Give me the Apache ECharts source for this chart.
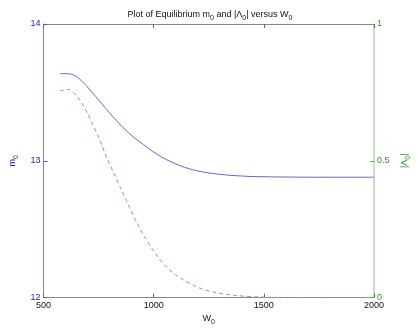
<!DOCTYPE html>
<html><head><meta charset="utf-8">
<script src="https://cdn.jsdelivr.net/npm/echarts@6/dist/echarts.min.js"></script>
<style>html,body{margin:0;padding:0;background:#fff}#c{width:420px;height:331px}</style>
</head><body><div id="c"></div>
<script>
const xTicks = [500, 1000, 1500, 2000];
const leftTicks = [12, 13, 14];
const rightTicks = [0, 0.5, 1];
const w0Blue = [575, 620, 654, 695, 737, 778, 820, 861, 911, 953, 994, 1036, 1078, 1119, 1161, 1202, 1244, 1285, 1356, 1451, 1618, 1800, 2000];
const m0 = [13.637, 13.635, 13.611, 13.548, 13.470, 13.392, 13.314, 13.244, 13.170, 13.120, 13.071, 13.028, 12.993, 12.965, 12.942, 12.925, 12.913, 12.904, 12.893, 12.885, 12.881, 12.880, 12.880];
const w0Green = [575, 612, 641, 662, 683, 704, 724, 745, 766, 787, 820, 856, 891, 925, 960, 994, 1028, 1064, 1098, 1133, 1202, 1272, 1368, 1493, 1650, 1800, 2000];
const lam0 = [0.755, 0.761, 0.746, 0.725, 0.699, 0.667, 0.631, 0.596, 0.555, 0.512, 0.454, 0.390, 0.329, 0.272, 0.221, 0.178, 0.140, 0.107, 0.085, 0.066, 0.037, 0.020, 0.008, 0.002, 0.0, 0.0, 0.0];

function richCol(c){
  return {
    b: {fontSize: 9, lineHeight: 10, verticalAlign: 'top', fontFamily: 'Liberation Sans', fontWeight: 'normal', color: c},
    s: {fontSize: 7, lineHeight: 16, fontFamily: 'Liberation Sans', fontWeight: 'normal', color: c}
  };
}
const chart = echarts.init(document.getElementById('c'));
chart.setOption({
  animation: false,
  backgroundColor: '#fff',
  title: {
    text: '{b|Plot of Equilibrium m}{s|0}{b| and |Λ}{s|0}{b|| versus W}{s|0}',
    left: 'center', top: 5,
    textStyle: {fontWeight: 'normal', rich: richCol('#111')}
  },
  grid: {left: 31, right: 28, top: 24, bottom: 24, containLabel: false},
  xAxis: [{
    type: 'value', min: 500, max: 2000, interval: 500,
    name: '{b|W}{s|0}', nameLocation: 'middle', nameGap: 13,
    nameTextStyle: {rich: richCol('#111')},
    axisLine: {lineStyle: {color: '#888'}},
    axisTick: {inside: true, length: 4, lineStyle: {color: '#666'}},
    axisLabel: {color: '#111', fontSize: 9, margin: 3, fontFamily: 'Liberation Sans', formatter: v => String(v)},
    splitLine: {show: false}
  }, {
    type: 'value', min: 500, max: 2000, interval: 500, position: 'top',
    axisLine: {lineStyle: {color: '#888'}},
    axisTick: {inside: true, length: 4, lineStyle: {color: '#666'}},
    axisLabel: {show: false}, splitLine: {show: false}
  }],
  yAxis: [{
    type: 'value', min: 12, max: 14, interval: 1, position: 'left',
    name: '{b|m}{s|0}', nameLocation: 'middle', nameGap: 19, nameRotate: 90,
    nameTextStyle: {rich: richCol('#1a1ad0')},
    axisLine: {show: true, lineStyle: {color: '#8080dd'}},
    axisTick: {show: true, inside: true, length: 4, lineStyle: {color: '#5555cc'}},
    axisLabel: {color: '#1a1ad0', fontSize: 9, margin: 3, fontFamily: 'Liberation Sans'},
    splitLine: {show: false}
  }, {
    type: 'value', min: 0, max: 1, interval: 0.5, position: 'right',
    name: '{b||Λ}{s|0}{b||}', nameLocation: 'middle', nameGap: 22, nameRotate: 90,
    nameTextStyle: {rich: richCol('#2a9a2a')},
    axisLine: {show: true, lineStyle: {color: '#b0d8b0', width: 1.5}},
    axisTick: {show: true, inside: true, length: 4, lineStyle: {color: '#66aa66'}},
    axisLabel: {color: '#2a9a2a', fontSize: 9, margin: 3, fontFamily: 'Liberation Sans'},
    splitLine: {show: false}
  }],
  series: [{
    type: 'line', xAxisIndex: 0, yAxisIndex: 0, smooth: 0.3, symbol: 'none',
    data: w0Blue.map((w, i) => [w, m0[i]]),
    lineStyle: {color: '#6666cc', width: 1}
  }, {
    type: 'line', xAxisIndex: 0, yAxisIndex: 1, smooth: 0.3, symbol: 'none',
    data: w0Green.map((w, i) => [w, lam0[i]]),
    lineStyle: {color: '#66bb66', width: 1, type: [4, 3]}
  }]
});
</script></body></html>
